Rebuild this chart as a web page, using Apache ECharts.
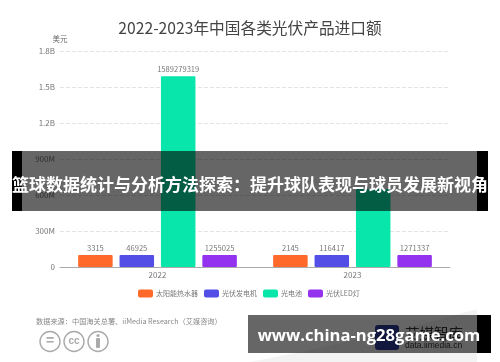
<!DOCTYPE html>
<html><head><meta charset="utf-8">
<style>html,body{margin:0;padding:0;background:#fff}#c{width:500px;height:362px;filter:blur(.45px)}</style>
<script src="https://cdn.jsdelivr.net/npm/echarts@6/dist/echarts.min.js"></script>
</head><body><div id="c"></div>
<script>
const years = ['2022','2023'];
const solarHeater = [3315, 2145];
const pvGenerator = [46925, 116417];
const pvCell = [1589279319, 650000000];
const pvLed = [1255025, 1271337];
const yTicks = {0:'0',300000000:'300M',600000000:'600M',900000000:'900M',1200000000:'1.2B',1500000000:'1.5B',1800000000:'1.8B'};
const titleText = '2022-2023年中国各类光伏产品进口额';
const sourceText = '数据来源：中国海关总署、iiMedia Research（艾媒咨询）';
const bannerText = '篮球数据统计与分析方法探索：提升球队表现与球员发展新视角';
const urlText = 'www.china-ng28game.com';
const CJK = '"Noto Sans CJK SC","Noto Sans",sans-serif';

function bar(name, data, color, hideIdx){
  return {name, type:'bar', data:data.map((v,i)=>i===hideIdx?{value:v,label:{show:false}}:v),
    barWidth:34.5, barGap:'20%', barMinHeight:12,
    itemStyle:{color, borderRadius:1},
    label:{show:true, position:'top', distance:3, fontSize:7.6, color:'#777', fontFamily:CJK}};
}
const ring = (cx,z)=>({type:'circle', shape:{cx,cy:341.5,r:10}, style:{fill:'#fff',stroke:'#aaa',lineWidth:1.4}, z});
const chart = echarts.init(document.getElementById('c'));
chart.setOption({
  animation:false,
  backgroundColor:'#fff',
  textStyle:{fontFamily:CJK},
  title:{text:titleText, left:'center', top:15, textStyle:{fontSize:15.7, fontWeight:'normal', color:'#444', fontFamily:CJK}},
  grid:{left:60, right:50, top:51, bottom:95},
  legend:{left:133, top:284.5, itemWidth:15, itemHeight:8, itemGap:6, icon:'roundRect',
    textStyle:{fontSize:7, color:'#777', fontFamily:CJK, padding:[0,0,0,-2]}},
  xAxis:{type:'category', data:years, axisTick:{show:false},
    axisLine:{lineStyle:{color:'#aaa', width:1}},
    axisLabel:{fontSize:8, color:'#777', margin:4}},
  yAxis:{type:'value', min:0, max:1800000000, interval:300000000,
    name:'美元', nameGap:8, nameTextStyle:{fontSize:7.5, color:'#666'},
    axisLabel:{fontSize:8, color:'#777', margin:5, formatter:v=>yTicks[v]},
    axisLine:{show:false}, axisTick:{show:false},
    splitLine:{lineStyle:{type:'dashed', color:'#e4e4e4', width:1}}},
  series:[
    bar('太阳能热水器', solarHeater, '#ff6a2b'),
    bar('光伏发电机', pvGenerator, '#534ee6'),
    bar('光电池', pvCell, '#08e6ab', 1),
    bar('光伏LED灯', pvLed, '#9333f0')
  ],
  graphic:{elements:[
    {type:'polygon', shape:{points:[[250,362],[300,352],[400,330],[477,309],[477,362]]}, style:{fill:'#f3f3f3'}, z:1},
    {type:'text', x:36, y:318, style:{text:sourceText, fontSize:7.2, fill:'#888', fontFamily:CJK}, z:2},
    ring(50,2), ring(74,2), ring(98,2),
    {type:'text', x:50, y:341.5, style:{text:'=', fontSize:14, fontWeight:'bold', fill:'#aaa', align:'center', verticalAlign:'middle', fontFamily:'Liberation Sans'}, z:3},
    {type:'text', x:74, y:341.5, style:{text:'cc', fontSize:10, fontWeight:'bold', fill:'#aaa', align:'center', verticalAlign:'middle', fontFamily:'Liberation Sans'}, z:3},
    {type:'circle', shape:{cx:98,cy:335.5,r:1.6}, style:{fill:'#aaa'}, z:3},
    {type:'rect', shape:{x:96,y:338,width:4,height:10,r:1}, style:{fill:'#aaa'}, z:3},
    {type:'rect', shape:{x:375,y:325,width:24,height:25,r:3}, style:{fill:'#2f3d9a'}, z:2},
    {type:'text', x:405, y:326, style:{text:'艾媒智库', fontSize:14.5, fill:'#333', fontFamily:CJK}, z:2},
    {type:'text', x:405, y:341, style:{text:'data.iimedia.cn', fontSize:8.5, fill:'#333', fontFamily:'"Liberation Sans"'}, z:2},
    {type:'rect', zlevel:1, shape:{x:12,y:151,width:10,height:60}, style:{fill:'#000'}},
    {type:'rect', zlevel:1, shape:{x:477,y:151,width:11,height:60}, style:{fill:'#000'}},
    {type:'rect', zlevel:1, shape:{x:22,y:151,width:455,height:60}, style:{fill:'rgba(0,0,0,.6)'}},
    {type:'text', zlevel:1, x:250, y:185, style:{text:bannerText, fontSize:17, fontWeight:'bold', fill:'#fff', align:'center', verticalAlign:'middle', fontFamily:CJK}},
    {type:'rect', zlevel:1, shape:{x:248,y:315,width:229,height:38}, style:{fill:'rgba(0,0,0,.6)'}},
    {type:'rect', zlevel:1, shape:{x:477,y:315,width:14,height:38}, style:{fill:'#000'}},
    {type:'text', zlevel:1, x:369, y:336, style:{text:urlText, fontSize:16.6, fontWeight:'bold', fill:'#fff', align:'center', verticalAlign:'middle', fontFamily:'"Open Sans"'}}
  ]}
});
</script></body></html>
